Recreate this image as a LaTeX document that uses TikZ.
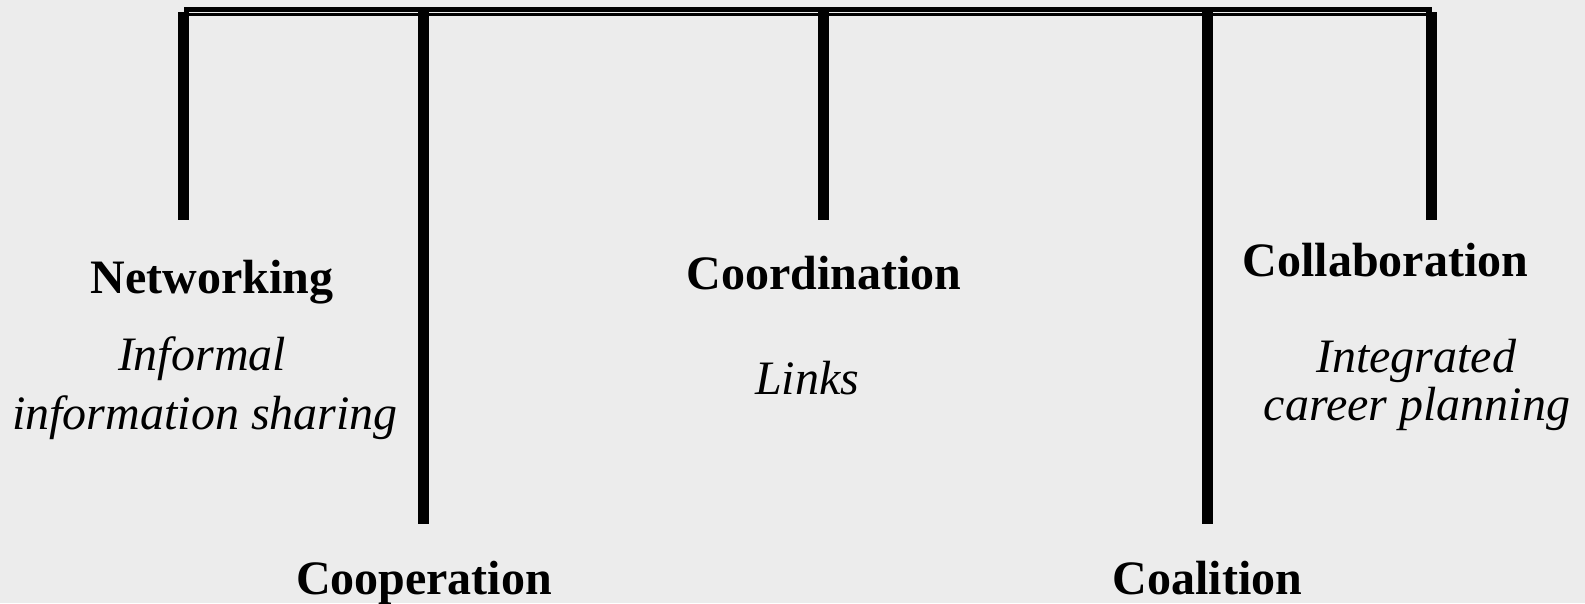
\documentclass[tikz,border=0pt]{standalone}
\usepackage{fontspec}
\setmainfont{Liberation Serif}
\definecolor{paper}{RGB}{236,236,236}
\tikzset{
  stem/.style={line width=11pt},
  title/.style={anchor=base, inner sep=0pt, font=\fontsize{48}{58}\selectfont\bfseries},
  note/.style={anchor=base, inner sep=0pt, font=\fontsize{48}{58}\selectfont\itshape},
}
\begin{document}
\begin{tikzpicture}[x=1pt,y=-1pt]
                \fill[paper] (0,0) rectangle (1585,603);
                \useasboundingbox (0,0) rectangle (1585,603);

                % top bar
                \coordinate (barL) at (184,9.35);
                \coordinate (barR) at (1432,9.35);
                \coordinate (lineL) at (189,14.3);
                \coordinate (lineR) at (1426,14.3);
                \draw[line width=5.3pt] (barL) -- (barR);
                \draw[line width=2.7pt] (lineL) -- (lineR);

                % stems
                \coordinate (netT) at (183.5,12);
                \coordinate (netB) at (183.5,220);
                \coordinate (coopT) at (423.5,12);
                \coordinate (coopB) at (423.5,524);
                \coordinate (coordT) at (823,12);
                \coordinate (coordB) at (823,220);
                \coordinate (coalT) at (1207.5,12);
                \coordinate (coalB) at (1207.5,524);
                \coordinate (collT) at (1431,12);
                \coordinate (collB) at (1431,220);

                \draw[stem] (netT) -- (netB);
                \draw[stem] (coopT) -- (coopB);
                \draw[stem] (coordT) -- (coordB);
                \draw[stem] (coalT) -- (coalB);
                \draw[stem] (collT) -- (collB);

                % labels
                \node[title] (net) at (212,293) {Networking};
                \node[note] (netA) at (202,370) {Informal};
                \node[note] (netB2) at (205,429) {information sharing};

                \node[title] (coord) at (824,289) {Coordination};
                \node[note] (coordA) at (807,394) {Links};

                \node[title] (coll) at (1385.5,276) {Collaboration};
                \node[note] (collA) at (1416,372) {Integrated};
                \node[note] (collB2) at (1417,420) {career planning};

                \node[title] (coop) at (424,594) {Cooperation};
                \node[title] (coal) at (1207.5,594) {Coalition};
\end{tikzpicture}
\end{document}
